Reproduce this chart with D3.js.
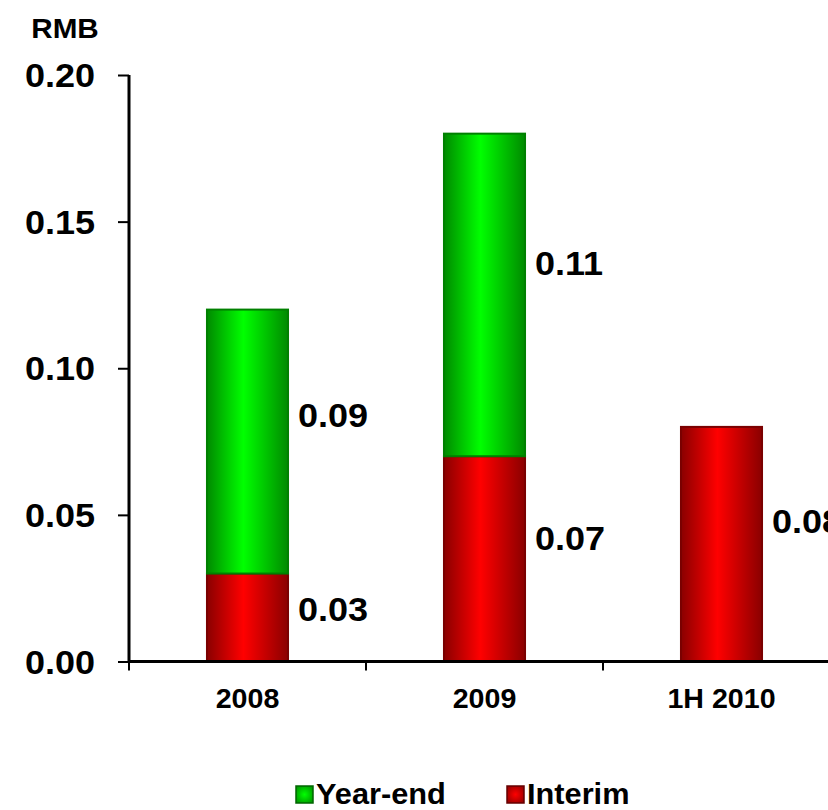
<!DOCTYPE html>
<html>
<head>
<meta charset="utf-8">
<script src="https://cdn.jsdelivr.net/npm/d3@7"></script>
<style>
  html, body { margin: 0; padding: 0; background: #fff; }
  svg { display: block; font-family: "Liberation Sans", Arial, sans-serif; font-weight: bold; }
</style>
</head>
<body>
<svg id="chart" width="828" height="810"></svg>
<script>
// Dividend per share, RMB
const categories = ["2008", "2009", "1H 2010"];
const interim = [0.03, 0.07, 0.08];
const yearEnd = [0.09, 0.11, 0];
const seriesNames = ["Year-end", "Interim"];
const yTicks = [0, 0.05, 0.10, 0.15, 0.20];

const svg = d3.select("#chart");

const x = d3.scaleBand().domain(categories).range([129, 840]).padding(0);
const y = d3.scaleLinear().domain([0, 0.20]).range([661.5, 75]);
const barW = x.bandwidth() * 0.342;
const SX = 1.06; // slight horizontal widening of all text

// Gradients: dark edges, bright centre
const defs = svg.append("defs");
function barGradient(id, dark, bright) {
  const g = defs.append("linearGradient").attr("id", id)
    .attr("x1", "0%").attr("x2", "100%").attr("y1", "0%").attr("y2", "0%");
  g.append("stop").attr("offset", "0%").attr("stop-color", dark);
  g.append("stop").attr("offset", "45%").attr("stop-color", bright);
  g.append("stop").attr("offset", "100%").attr("stop-color", dark);
}
barGradient("gGreen", "#008a00", "#00ff00");
barGradient("gRed", "#8a0000", "#ff0000");
function swatchGradient(id, dark, bright) {
  const g = defs.append("radialGradient").attr("id", id)
    .attr("cx", "50%").attr("cy", "50%").attr("r", "60%");
  g.append("stop").attr("offset", "0%").attr("stop-color", bright);
  g.append("stop").attr("offset", "100%").attr("stop-color", dark);
}
swatchGradient("sGreen", "#009a00", "#00ff00");
swatchGradient("sRed", "#9a0000", "#ff0000");

// Text helper: positioned by transform so it can be widened a little
function label(parent, tx, ty, str, size, anchor) {
  return parent.append("text")
    .attr("transform", `translate(${tx},${ty}) scale(${SX},1)`)
    .attr("text-anchor", anchor || "start")
    .attr("font-size", size)
    .attr("fill", "#000")
    .text(str);
}

// Stack the two series
const rows = categories.map((c, i) => ({ cat: c, Interim: interim[i], "Year-end": yearEnd[i] }));
const stacked = d3.stack().keys(["Interim", "Year-end"])(rows);
const fills = { "Interim": "url(#gRed)", "Year-end": "url(#gGreen)" };
const strokes = { "Interim": "#7a0000", "Year-end": "#008000" };

const bars = svg.append("g");
stacked.forEach(layer => {
  bars.selectAll(null)
    .data(layer.filter(d => d[1] - d[0] > 0))
    .join("rect")
    .attr("x", d => x(d.data.cat) + (x.bandwidth() - barW) / 2)
    .attr("y", d => y(d[1]))
    .attr("width", barW)
    .attr("height", d => y(d[0]) - y(d[1]))
    .attr("fill", fills[layer.key])
    .attr("stroke", strokes[layer.key])
    .attr("stroke-width", 2);
});

// Value labels to the right of each segment
const labels = svg.append("g");
stacked.forEach(layer => {
  layer.filter(d => d[1] - d[0] > 0).forEach(d => {
    const tx = x(d.data.cat) + (x.bandwidth() + barW) / 2 + 10;
    const ty = y(d[0] + (d[1] - d[0]) * 0.6) + 12;
    label(labels, tx, ty, d3.format(".2f")(d[1] - d[0]), 34);
  });
});

// Y axis
const yAxis = svg.append("g").attr("transform", "translate(129,0)")
  .call(d3.axisLeft(y).tickValues(yTicks).tickFormat(d3.format(".2f")).tickSize(11).tickPadding(20));
yAxis.select(".domain").attr("stroke", "#000").attr("stroke-width", 3).attr("d", `M0,${y(0.20)}V${y(0)}`);
yAxis.selectAll(".tick line").attr("stroke", "#000").attr("stroke-width", 2);
yAxis.selectAll(".tick text").remove();
yTicks.forEach(v => label(svg, 95, y(v) + 12, d3.format(".2f")(v), 34, "end"));

// X axis with boundary ticks between categories
const xAxis = svg.append("g").attr("transform", `translate(0,${y(0)})`);
xAxis.append("line").attr("x1", 129).attr("x2", 840).attr("stroke", "#000").attr("stroke-width", 3);
xAxis.selectAll(null).data(categories.map(c => x(c)).concat([x.range()[1]]))
  .join("line")
  .attr("x1", d => d).attr("x2", d => d).attr("y1", 0).attr("y2", 9)
  .attr("stroke", "#000").attr("stroke-width", 2);
categories.forEach(c => label(xAxis, x(c) + x.bandwidth() / 2, 46, c, 27, "middle"));

// Unit label
label(svg, 65, 38, "RMB", 28, "middle");

// Legend
const legend = svg.append("g");
const legendItems = [
  { name: seriesNames[0], fill: "url(#sGreen)", stroke: "#006400", x: 296 },
  { name: seriesNames[1], fill: "url(#sRed)", stroke: "#640000", x: 507 }
];
legendItems.forEach(it => {
  legend.append("rect").attr("x", it.x).attr("y", 786).attr("width", 17).attr("height", 17)
    .attr("fill", it.fill).attr("stroke", it.stroke).attr("stroke-width", 1.5);
  label(legend, it.x + 20, 804, it.name, 29);
});
</script>
</body>
</html>
